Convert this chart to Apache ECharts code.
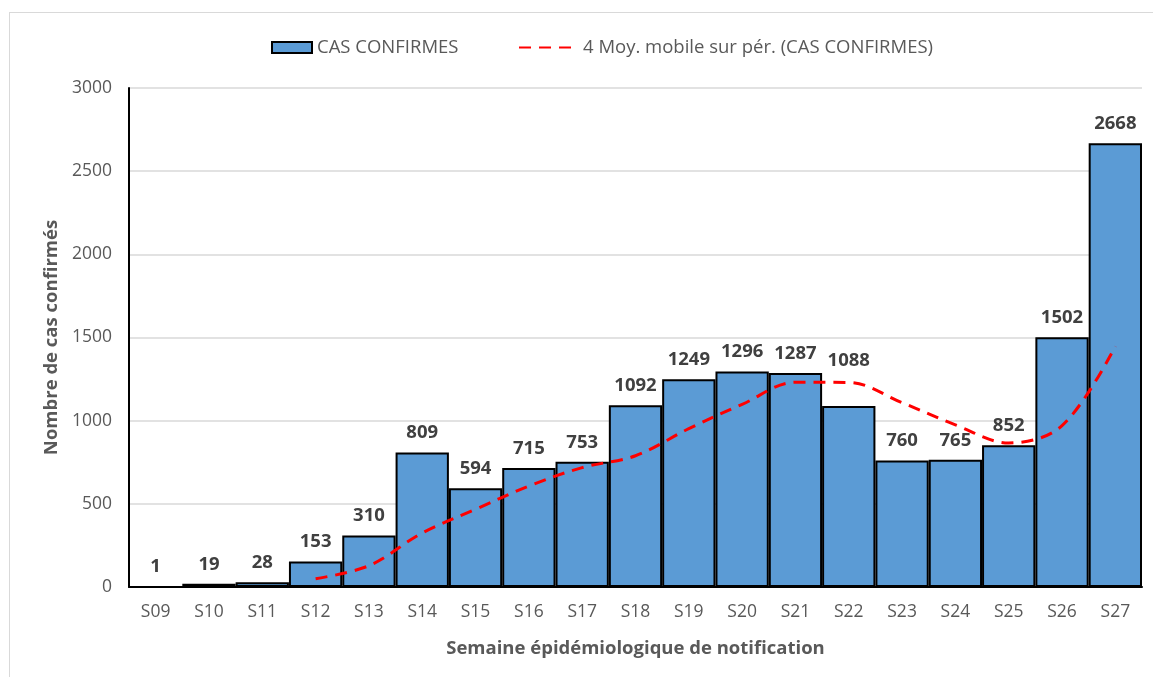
<!DOCTYPE html>
<html>
<head>
<meta charset="utf-8">
<script src="https://cdn.jsdelivr.net/npm/echarts@6/dist/echarts.min.js"></script>
<style>
html,body{margin:0;padding:0;background:#fff;}
#frame{position:absolute;left:9px;top:12px;width:1150px;height:680px;border:1px solid #d9d9d9;box-sizing:border-box;}
#chart{position:absolute;left:0;top:0;width:1153px;height:677px;}
</style>
</head>
<body>
<div id="frame"></div>
<div id="chart"></div>
<script>
// semaines epidemiologiques
var weeks = ['S09','S10','S11','S12','S13','S14','S15','S16','S17','S18','S19','S20','S21','S22','S23','S24','S25','S26','S27'];
// cas confirmes par semaine
var cases = [1,19,28,153,310,809,594,715,753,1092,1249,1296,1287,1088,760,765,852,1502,2668];
// moyenne mobile sur 4 periodes (pas de valeur avant S12)
var movAvg = ['-','-','-',50,128,325,467,607,718,789,952,1098,1231,1230,1108,975,866,970,1447];
var yTicks = [0,500,1000,1500,2000,2500,3000];

var FONT = 'Open Sans';
var SERIE_BAR = 'CAS CONFIRMES';
var SERIE_LINE = '4 Moy. mobile sur pér. (CAS CONFIRMES)';

// etiquette S22 deplacee au-dessus de la courbe (comme dans l'original)
var barData = cases.map(function(v, i){
	if (weeks[i] === 'S22') return {value: v, label: {offset: [0, -26]}};
	return v;
});

var chart = echarts.init(document.getElementById('chart'));
var legendText = {fontFamily: FONT, fontSize: 18.5, color: '#595959'};
var option = {
	animation: false,
	textStyle: {fontFamily: FONT},
	legend: [
		{top: 33, left: 266, itemWidth: 40, itemHeight: 11, textStyle: legendText,
			data: [{name: SERIE_BAR, icon: 'rect'}]},
		{top: 33, left: 513, itemWidth: 59, itemHeight: 11, textStyle: legendText,
			data: [{name: SERIE_LINE, itemStyle: {opacity: 0}}]}
	],
	grid: {left: 129, right: 11, top: 88, bottom: 90},
	xAxis: {
		type: 'category',
		data: weeks,
		name: 'Semaine épidémiologique de notification',
		nameLocation: 'middle', nameGap: 52,
		nameTextStyle: {fontFamily: FONT, fontSize: 18.5, fontWeight: 'bold', color: '#595959'},
		axisLine: {lineStyle: {color: '#000', width: 2}},
		axisTick: {show: false},
		axisLabel: {fontFamily: FONT, fontSize: 17.5, color: '#595959', margin: 16}
	},
	yAxis: {
		type: 'value', min: yTicks[0], max: yTicks[yTicks.length-1], interval: 500,
		name: 'Nombre de cas confirmés',
		nameLocation: 'middle', nameGap: 67,
		nameTextStyle: {fontFamily: FONT, fontSize: 18.5, fontWeight: 'bold', color: '#595959'},
		axisLine: {show: true, lineStyle: {color: '#000', width: 2}},
		axisTick: {show: false},
		axisLabel: {fontFamily: FONT, fontSize: 17.5, color: '#595959', margin: 17,
			formatter: function(v){ return String(v); }},
		splitLine: {lineStyle: {color: '#d9d9d9', width: 1.5}}
	},
	series: [
		{
			name: SERIE_BAR,
			type: 'bar',
			data: barData,
			barWidth: '100%',
			barCategoryGap: 0,
			itemStyle: {color: '#5b9bd5', borderColor: '#000', borderWidth: 2},
			label: {
				show: true, position: 'top', distance: 10,
				fontFamily: FONT, fontSize: 18.5, fontWeight: 'bold', color: '#404040'
			}
		},
		{
			name: SERIE_LINE,
			type: 'line',
			data: movAvg,
			smooth: 0.35,
			symbol: 'none',
			z: 5,
			itemStyle: {color: '#ff0000'},
			lineStyle: {color: '#ff0000', width: 3, type: [12, 8]}
		}
	]
};
chart.setOption(option);
</script>
</body>
</html>
